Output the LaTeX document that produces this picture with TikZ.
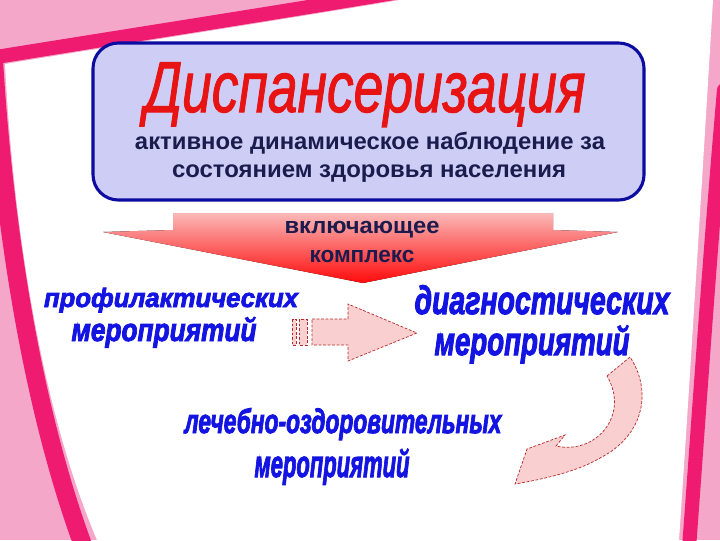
\documentclass[tikz,border=0pt]{standalone}
\usepackage{fontspec}
\setmainfont{Liberation Sans}
\newfontfamily\heavy{Liberation Sans Bold Italic}[FakeBold=2.8]
\newfontfamily\slanted{Liberation Sans Italic}[FakeBold=1.6]
\usepackage{graphicx}
\definecolor{pinkback}{HTML}{F4A7C8}
\definecolor{pinkdark}{HTML}{EE1B70}
\definecolor{boxfill}{HTML}{CDCDF6}
\definecolor{boxedge}{HTML}{0C0CA0}
\definecolor{navy}{HTML}{1B1B4D}
\definecolor{wordblue}{HTML}{1414E2}
\definecolor{titlered}{HTML}{E81414}
\definecolor{arrowtop}{HTML}{FBB8B8}
\definecolor{arrowred}{HTML}{FF0A0A}
\definecolor{arrowfill}{HTML}{F9CFCF}
\definecolor{arrowedge}{HTML}{B52A2A}
\usetikzlibrary{positioning}
% one pixel of the slide
\newlength\px
\setlength\px{0.025cm}
% text squeezed to a given width and x-height
\newcommand\fitw[3]{\resizebox{#1\px}{#2\px}{\smash{#3}\vphantom{x}}}
\tikzset{
  frame/.style={draw=pinkdark, line cap=round},
  mainbox/.style={fill=boxfill, draw=boxedge, line width=2.2pt, rounded corners=18pt,
    minimum width=551\px, minimum height=157\px},
  lab/.style={inner sep=0pt, anchor=base, text=navy, font=\bfseries\fontsize{20}{24}\selectfont},
  wa/.style={inner sep=0pt, anchor=base, text=wordblue, font=\heavy\fontsize{20}{24}\selectfont},
  ttl/.style={inner sep=0pt, anchor=base, text=titlered, font=\slanted\fontsize{20}{24}\selectfont},
  downarrow/.style={top color=arrowtop, middle color=arrowred!85!arrowtop, bottom color=arrowred, draw=none},
  blockarrow/.style={fill=arrowfill, draw=arrowedge, line width=0.5pt, dash pattern=on 2pt off 1.2pt},
}
\begin{document}
\begin{tikzpicture}[x=1\px, y=-1\px]
  \useasboundingbox (0,0) rectangle (720,540);
  % pink frame of the slide
  \fill[pinkback] (0,0) rectangle (720,540);
  \fill[white] (5,64) .. controls (120,45) and (280,20) .. (400,0) -- (713,0)
    .. controls (702,180) and (690,380) .. (679,540) -- (97,540)
    .. controls (50,430) and (15,260) .. (5,64) -- cycle;
  \draw[frame, line width=10pt] (-10,58) .. controls (120,37) and (280,12) .. (400,-8);
  \draw[frame, line width=13pt] (-6,62) .. controls (6,260) and (40,430) .. (84,548);
  \draw[frame, line width=10pt] (724,90) .. controls (710,250) and (700,400) .. (689,548);
  % box with the title
  \node[mainbox] (box) at (368.5,121.5) {};
  \node[ttl] (title) at (365,112) {\fitw{441}{38}{Диспансеризация}};
  \node[lab] (sub1) at (370,149) {\fitw{470}{12.5}{активное динамическое наблюдение за}};
  \node[lab] (sub2) at (369,177) {\fitw{394}{12.5}{состоянием здоровья населения}};
  % broad arrow down
  \fill[downarrow] (173,213) -- (553,213) -- (553,230) -- (618,232) -- (363,283)
    -- (103,232) -- (173,230) -- cycle;
  \node[lab] (incl) at (362,233) {\fitw{155}{12}{включающее}};
  \node[lab] (compl) at (362,262) {\fitw{105}{12}{комплекс}};
  % three kinds of measures
  \node[wa] (prof1) at (171,307) {\fitw{254}{14}{профилактических}};
  \node[wa] (prof2) at (164,341) {\fitw{185}{17}{мероприятий}};
  \node[wa] (diag1) at (542,314) {\fitw{255}{21}{диагностических}};
  \node[wa] (diag2) at (532,355) {\fitw{195}{21}{мероприятий}};
  \node[wa] (treat1) at (343,433) {\fitw{317}{18}{лечебно-оздоровительных}};
  \node[wa] (treat2) at (332,477) {\fitw{155}{20}{мероприятий}};
  % arrow to the right
  \draw[blockarrow] (292,319) rectangle (296,345);
  \draw[blockarrow] (299,319) rectangle (307,345);
  \draw[blockarrow] (312,319) -- (348,319) -- (348,304) -- (417,333) -- (348,361)
    -- (348,345) -- (312,345) -- cycle;
  % curved arrow down and back
  \draw[blockarrow] (607,376) -- (630,357) .. controls (652,390) and (645,435) .. (600,458)
    .. controls (580,470) and (550,478) .. (515,484) -- (527,449) -- (565,435) -- (556,446)
    .. controls (596,455) and (630,415) .. (607,376) -- cycle;
\end{tikzpicture}
\end{document}
